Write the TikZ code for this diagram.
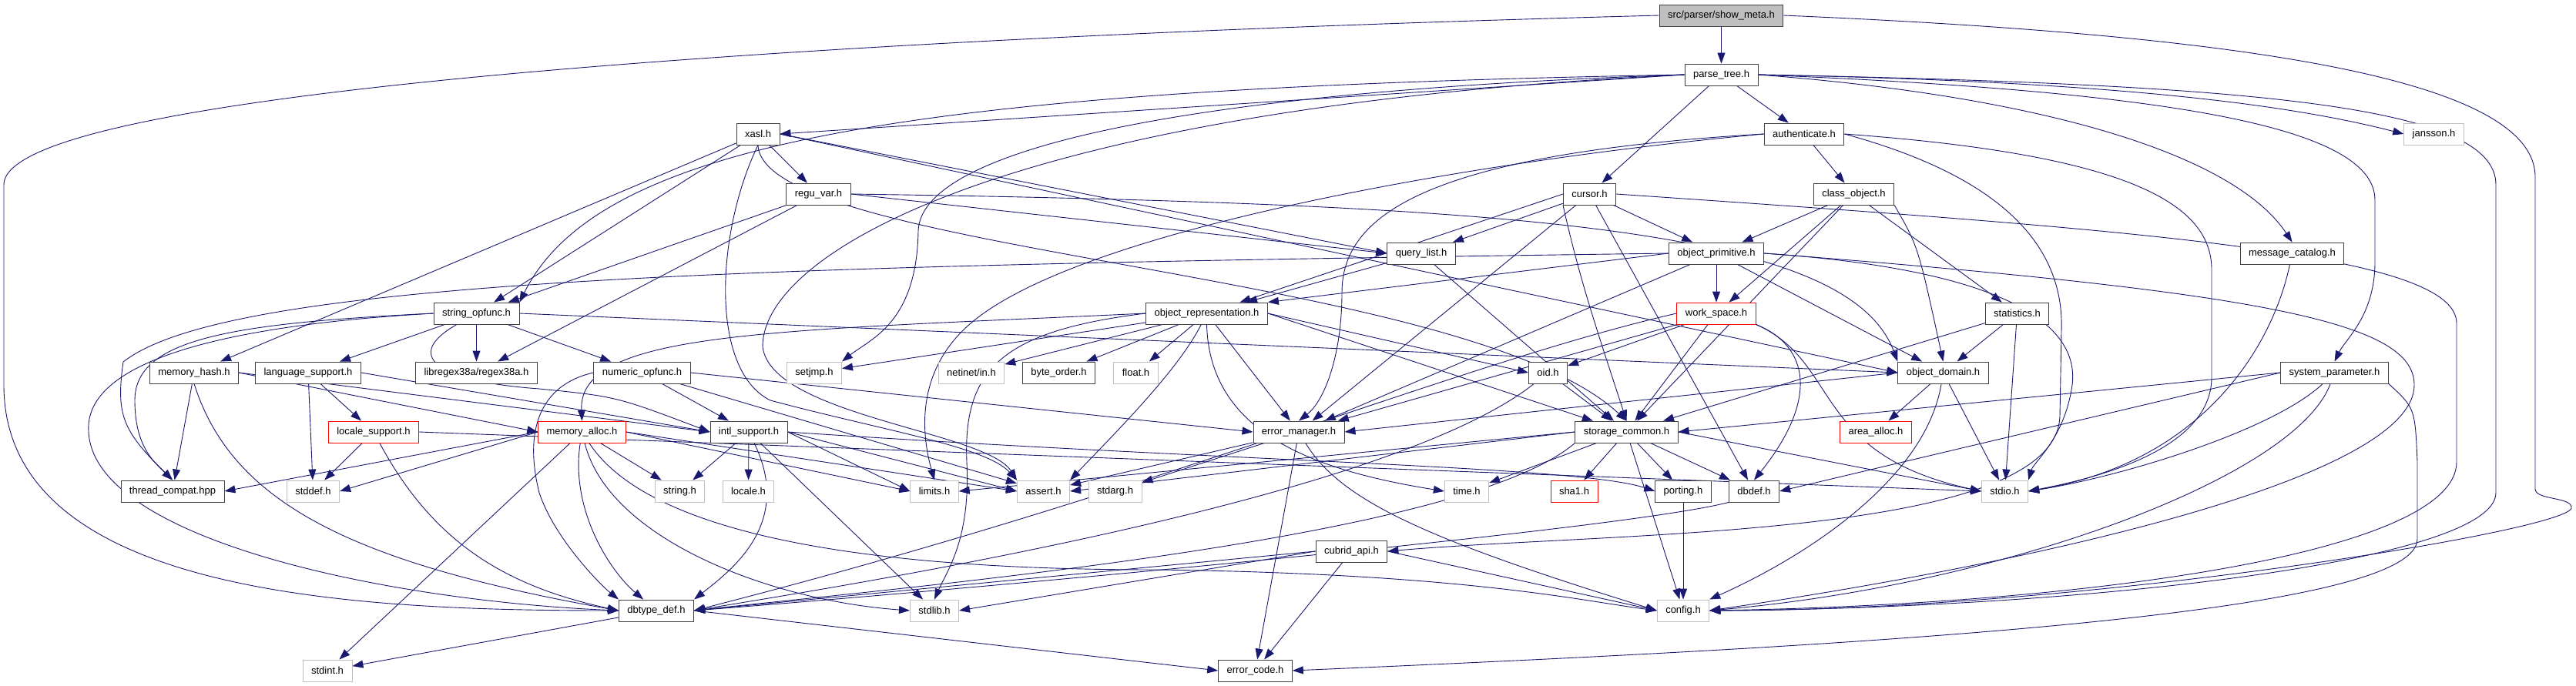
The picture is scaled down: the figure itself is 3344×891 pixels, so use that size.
\documentclass[tikz,border=0pt]{standalone}
\usepackage{fontspec}
\setmainfont{Liberation Sans}
\usetikzlibrary{arrows.meta}
\definecolor{edgeblue}{HTML}{191970}
\definecolor{grey75}{HTML}{BFBFBF}
\pgfdeclarelayer{bg}
\pgfsetlayers{bg,main}

\begin{document}
\begin{tikzpicture}[x=1pt, y=-1pt, every node/.style={font=\fontsize{13}{15}\selectfont}, >={Triangle[length=14pt,width=10pt]}, nd/.style={draw=black!75, fill=white, line width=0.9pt, minimum height=28pt, inner xsep=11pt, inner ysep=0pt}, sy/.style={nd, draw=grey75}, tr/.style={nd, draw=red}, lk/.style={->, draw=edgeblue, line width=0.9pt}]
	\useasboundingbox (0,0) rectangle (3344,891);
	\node[nd, fill=grey75] (sm) at (2234.5,20) {src/parser/show\_meta.h};
	\node[nd] (pt) at (2234.5,97) {parse\_tree.h};
	\node[nd] (xasl) at (984,174) {xasl.h};
	\node[nd] (auth) at (2342,174) {authenticate.h};
	\node[sy] (jans) at (3159.5,174) {jansson.h};
	\node[nd] (regu) at (1062.5,252) {regu\_var.h};
	\node[nd] (cur) at (2063.5,252) {cursor.h};
	\node[nd] (cls) at (2406.5,252) {class\_object.h};
	\node[nd] (ql) at (1845,329) {query\_list.h};
	\node[nd] (prim) at (2228,329) {object\_primitive.h};
	\node[nd] (msg) at (2975.5,329) {message\_catalog.h};
	\node[nd] (sop) at (618.5,407) {string\_opfunc.h};
	\node[nd] (orep) at (1566.5,407) {object\_representation.h};
	\node[tr] (ws) at (2228,407) {work\_space.h};
	\node[nd] (stat) at (2618.5,407) {statistics.h};
	\node[nd] (mh) at (252,484) {memory\_hash.h};
	\node[nd] (lang) at (400,484) {language\_support.h};
	\node[nd] (rgx) at (618.5,484) {libregex38a/regex38a.h};
	\node[nd] (num) at (833.5,484) {numeric\_opfunc.h};
	\node[sy] (sj) at (1057,484) {setjmp.h};
	\node[sy] (net) at (1261,484) {netinet/in.h};
	\node[nd] (bo) at (1374.5,484) {byte\_order.h};
	\node[sy] (flt) at (1474.5,484) {float.h};
	\node[nd] (oid) at (2009.5,484) {oid.h};
	\node[nd] (dom) at (2522.5,484) {object\_domain.h};
	\node[nd] (sp) at (3030.5,484) {system\_parameter.h};
	\node[tr] (loc) at (485,561) {locale\_support.h};
	\node[tr] (ma) at (755.5,561) {memory\_alloc.h};
	\node[nd] (intl) at (972,561) {intl\_support.h};
	\node[nd] (em) at (1686,561) {error\_manager.h};
	\node[nd] (sc) at (2111.5,561) {storage\_common.h};
	\node[tr] (aa) at (2435,561) {area\_alloc.h};
	\node[nd] (tc) at (224,638) {thread\_compat.hpp};
	\node[sy] (sdef) at (406.5,638) {stddef.h};
	\node[sy] (str) at (882.5,638) {string.h};
	\node[sy] (lcl) at (971.5,638) {locale.h};
	\node[sy] (lim) at (1213,638) {limits.h};
	\node[sy] (ast) at (1354.5,638) {assert.h};
	\node[sy] (sarg) at (1447.5,638) {stdarg.h};
	\node[sy] (tm) at (1904,638) {time.h};
	\node[tr] (sha) at (2043.5,638) {sha1.h};
	\node[nd] (port) at (2185,638) {porting.h};
	\node[nd] (dbd) at (2277,638) {dbdef.h};
	\node[sy] (sio) at (2602.5,638) {stdio.h};
	\node[nd] (api) at (1754.5,716) {cubrid\_api.h};
	\node[nd] (dtd) at (852,793) {dbtype\_def.h};
	\node[sy] (slib) at (1213,793) {stdlib.h};
	\node[sy] (cfg) at (2185,793) {config.h};
	\node[sy] (sint) at (425,871) {stdint.h};
	\node[nd] (ec) at (1629.5,871) {error\_code.h};
	\begin{pgfonlayer}{bg}
	\draw[lk] (sm) -- (pt);
	\draw[lk] (sm.west) .. controls (1200,45) and (5,110) .. (5,240) -- (5,500) .. controls (5,770) and (450,793) .. (dtd.west);
	\draw[lk] (sm.east) .. controls (2900,45) and (3291,100) .. (3291,230) -- (3291,635) .. controls (3291,650) and (3340,645) .. (3338,660) .. controls (3330,690) and (2700,793) .. (cfg.east);
	\draw[lk] (pt) -- (cur); \draw[lk] (pt) -- (auth); \draw[lk] (pt.west) -- (xasl.east);
	\draw[lk] (pt.west) .. controls (1200,115) and (780,180) .. (sop.north east);
	\draw[lk] (pt.west) .. controls (1500,120) and (1195,200) .. (1192,300) .. controls (1190,420) and (1130,440) .. (sj.north east);
	\draw[lk] (pt.west) .. controls (1300,140) and (990,330) .. (990,450) .. controls (1000,540) and (1280,560) .. (ast.north west);
	\draw[lk] (pt.east) .. controls (2700,105) and (2950,130) .. (jans.west);
	\draw[lk] (pt.east) .. controls (2650,125) and (2900,200) .. (msg.north);
	\draw[lk] (pt.east) .. controls (2850,120) and (3083,170) .. (3083,260) -- (3083,340) .. controls (3083,410) and (3045,440) .. (sp.north);
	\draw[lk] (pt.east) .. controls (2950,110) and (3240,140) .. (3240,240) -- (3240,640) .. controls (3240,730) and (2700,790) .. (cfg.east);
	\draw[lk] (xasl) -- (regu); \draw[lk] (xasl.east) -- (ql.west); \draw[lk] (xasl) -- (sop); \draw[lk] (xasl) -- (mh);
	\draw[lk] (xasl.south) .. controls (990,330) and (1900,350) .. (sc.north);
	\draw[lk] (xasl.east) -- (dom.west);
	\draw[lk] (xasl.south) .. controls (930,300) and (920,480) .. (1000,520) .. controls (1150,560) and (1280,580) .. (ast.north west);
	\draw[lk] (regu) -- (sop); \draw[lk] (regu) -- (rgx); \draw[lk] (regu.east) -- (ql.west);
	\draw[lk] (regu.east) .. controls (2000,265) and (2400,300) .. (dom.north west);
	\draw[lk] (auth) -- (cls);
	\draw[lk] (auth.west) .. controls (1850,200) and (1742,280) .. (1742,380) .. controls (1742,460) and (1720,520) .. (em.north);
	\draw[lk] (auth.west) .. controls (1900,210) and (1400,300) .. (1260,420) .. controls (1190,480) and (1195,560) .. (lim.north);
	\draw[lk] (auth.east) .. controls (2750,200) and (2871,260) .. (2871,350) -- (2871,490) .. controls (2871,590) and (2700,625) .. (sio.east);
	\draw[lk] (auth.east) .. controls (2600,230) and (2680,320) .. (2676,430) -- (2674,540) .. controls (2670,700) and (2100,690) .. (api.east);
	\draw[lk] (cur) -- (ql); \draw[lk] (cur.west) -- (orep); \draw[lk] (cur) -- (prim); \draw[lk] (cur) -- (em);
	\draw[lk] (cur.south west) .. controls (2050,360) and (2070,420) .. (sc.north);
	\draw[lk] (cur) -- (dbd);
	\draw[lk] (cur.east) .. controls (2800,300) and (3189,330) .. (3189,420) -- (3189,600) .. controls (3189,720) and (2700,785) .. (cfg.east);
	\draw[lk] (cls) -- (prim); \draw[lk] (cls) -- (ws); \draw[lk] (cls) -- (stat); \draw[lk] (cls) -- (sc);
	\draw[lk] (cls.south east) .. controls (2490,320) .. (dom.north);
	\draw[lk] (prim.west) -- (orep.north east); \draw[lk] (prim) -- (ws); \draw[lk] (prim) -- (dom); \draw[lk] (prim) -- (em);
	\draw[lk] (prim.west) .. controls (1000,345) and (300,360) .. (160,470) .. controls (150,540) and (160,560) .. (tc.north);
	\draw[lk] (prim.east) .. controls (2600,350) and (2700,420) .. (2690,500) .. controls (2680,570) and (2640,600) .. (sio.north east);
	\draw[lk] (prim.east) .. controls (2950,380) and (3134,420) .. (3134,500) .. controls (3134,620) and (2650,730) .. (cfg.east);
	\draw[lk] (ql) -- (orep); \draw[lk] (ql) -- (sc);
	\draw[lk] (msg) .. controls (2950,450) and (2860,600) .. (sio.east);
	\draw[lk] (sop) -- (lang); \draw[lk] (sop) -- (rgx); \draw[lk] (sop) -- (num);
	\draw[lk] (sop) .. controls (525,460) and (560,495) .. (700,505) .. controls (800,515) .. (intl.west);
	\draw[lk] (sop.west) .. controls (300,420) and (175,440) .. (175,520) .. controls (175,580) and (200,600) .. (tc.north);
	\draw[lk] (sop.west) .. controls (250,425) and (110,480) .. (115,560) .. controls (120,700) and (500,780) .. (dtd.west);
	\draw[lk] (sop.east) -- (dom.west);
	\draw[lk] (orep) -- (sj); \draw[lk] (orep) -- (net); \draw[lk] (orep) -- (bo); \draw[lk] (orep) -- (flt);
	\draw[lk] (orep.east) -- (oid.west); \draw[lk] (orep) -- (em); \draw[lk] (orep.east) -- (sc);
	\draw[lk] (orep) .. controls (1530,480) and (1450,560) .. (ast.north east);
	\draw[lk] (orep.south) .. controls (1570,560) and (1700,610) .. (tm.west);
	\draw[lk] (orep.west) .. controls (1000,430) and (750,430) .. (ma.north);
	\draw[lk] (orep.west) .. controls (1300,430) and (1250,480) .. (1255,600) .. controls (1260,700) and (1230,740) .. (slib.north);
	\draw[lk] (ws) -- (oid); \draw[lk] (ws) -- (sc); \draw[lk] (ws) -- (em);
	\draw[lk] (ws.south east) .. controls (2350,450) and (2360,520) .. (dbd.north);
	\draw[lk] (ws.south east) .. controls (2390,470) and (2350,590) .. (sio.west);
	\draw[lk] (ws.west) .. controls (1900,470) and (1500,640) .. (dtd.east);
	\draw[lk] (stat) -- (dom); \draw[lk] (stat) -- (sio); \draw[lk] (stat) -- (sc);
	\draw[lk] (mh) -- (tc); \draw[lk] (mh.east) -- (intl.west); \draw[lk] (mh.east) -- (ma.west);
	\draw[lk] (mh.south) .. controls (300,650) and (450,730) .. (dtd.west);
	\draw[lk] (lang) -- (loc); \draw[lk] (lang) -- (sdef); \draw[lk] (lang.east) -- (intl.west);
	\draw[lk] (loc) -- (sdef); \draw[lk] (loc.east) -- (sio.west);
	\draw[lk] (loc) .. controls (560,700) and (650,760) .. (dtd.west);
	\draw[lk] (num) -- (intl); \draw[lk] (num.east) -- (em.west); \draw[lk] (num) -- (ast);
	\draw[lk] (num.west) .. controls (700,500) and (680,560) .. (700,640) .. controls (720,700) and (780,760) .. (dtd.north west);
	\draw[lk] (oid) -- (sc);
	\draw[lk] (oid) .. controls (1800,650) and (1100,760) .. (dtd.east);
	\draw[lk] (dom) -- (aa); \draw[lk] (dom) -- (sio); \draw[lk] (dom.west) -- (em.east);
	\draw[lk] (dom) .. controls (2500,620) and (2350,720) .. (cfg.north east);
	\draw[lk] (sp.west) -- (sc.east); \draw[lk] (sp.west) -- (dbd.east);
	\draw[lk] (sp) .. controls (2950,560) and (2750,620) .. (sio.east);
	\draw[lk] (sp) .. controls (2980,620) and (2600,760) .. (cfg.east);
	\draw[lk] (sp.south east) .. controls (3135,530) .. (3138,600) -- (3138,700) .. controls (3138,800) and (2400,840) .. (ec.east);
	\draw[lk] (ma.west) -- (tc.east); \draw[lk] (ma.west) -- (sdef.east); \draw[lk] (ma) -- (str);
	\draw[lk] (ma.east) -- (lim.west); \draw[lk] (ma.east) -- (ast.west); \draw[lk] (ma) -- (sint);
	\draw[lk] (ma) .. controls (740,660) and (790,740) .. (dtd);
	\draw[lk] (ma) .. controls (790,700) and (1000,780) .. (slib.west);
	\draw[lk] (ma) .. controls (820,660) and (1000,740) .. (1500,740) .. controls (1900,745) and (2050,780) .. (cfg.west);
	\draw[lk] (intl) -- (str); \draw[lk] (intl) -- (lcl); \draw[lk] (intl.east) -- (lim.west); \draw[lk] (intl.east) -- (ast.west); \draw[lk] (intl) -- (slib);
	\draw[lk] (intl) .. controls (1030,680) and (950,740) .. (dtd.north east);
	\draw[lk] (intl.east) .. controls (1600,600) and (2050,605) .. (port.west);
	\draw[lk] (em) -- (sarg); \draw[lk] (em) -- (ast); \draw[lk] (em) -- (ec);
	\draw[lk] (em) .. controls (1740,650) and (1850,700) .. (cfg.west);
	\draw[lk] (sc.west) -- (lim.east); \draw[lk] (sc.west) -- (ast.east); \draw[lk] (sc) -- (tm); \draw[lk] (sc) -- (sha);
	\draw[lk] (sc) -- (port); \draw[lk] (sc) -- (dbd); \draw[lk] (sc.east) -- (sio.west); \draw[lk] (sc) -- (cfg);
	\draw[lk] (sc.south west) .. controls (1900,700) and (1200,760) .. (dtd.east);
	\draw[lk] (dbd.south west) .. controls (2100,690) and (1200,770) .. (dtd.east);
	\draw[lk] (api.west) -- (dtd.east); \draw[lk] (api.west) -- (slib.east); \draw[lk] (api) -- (ec); \draw[lk] (api.east) -- (cfg.west);
	\draw[lk] (port) -- (cfg);
	\draw[lk] (dtd) -- (sint); \draw[lk] (dtd.east) -- (ec.west);
	\end{pgfonlayer}
\end{tikzpicture}
\end{document}
